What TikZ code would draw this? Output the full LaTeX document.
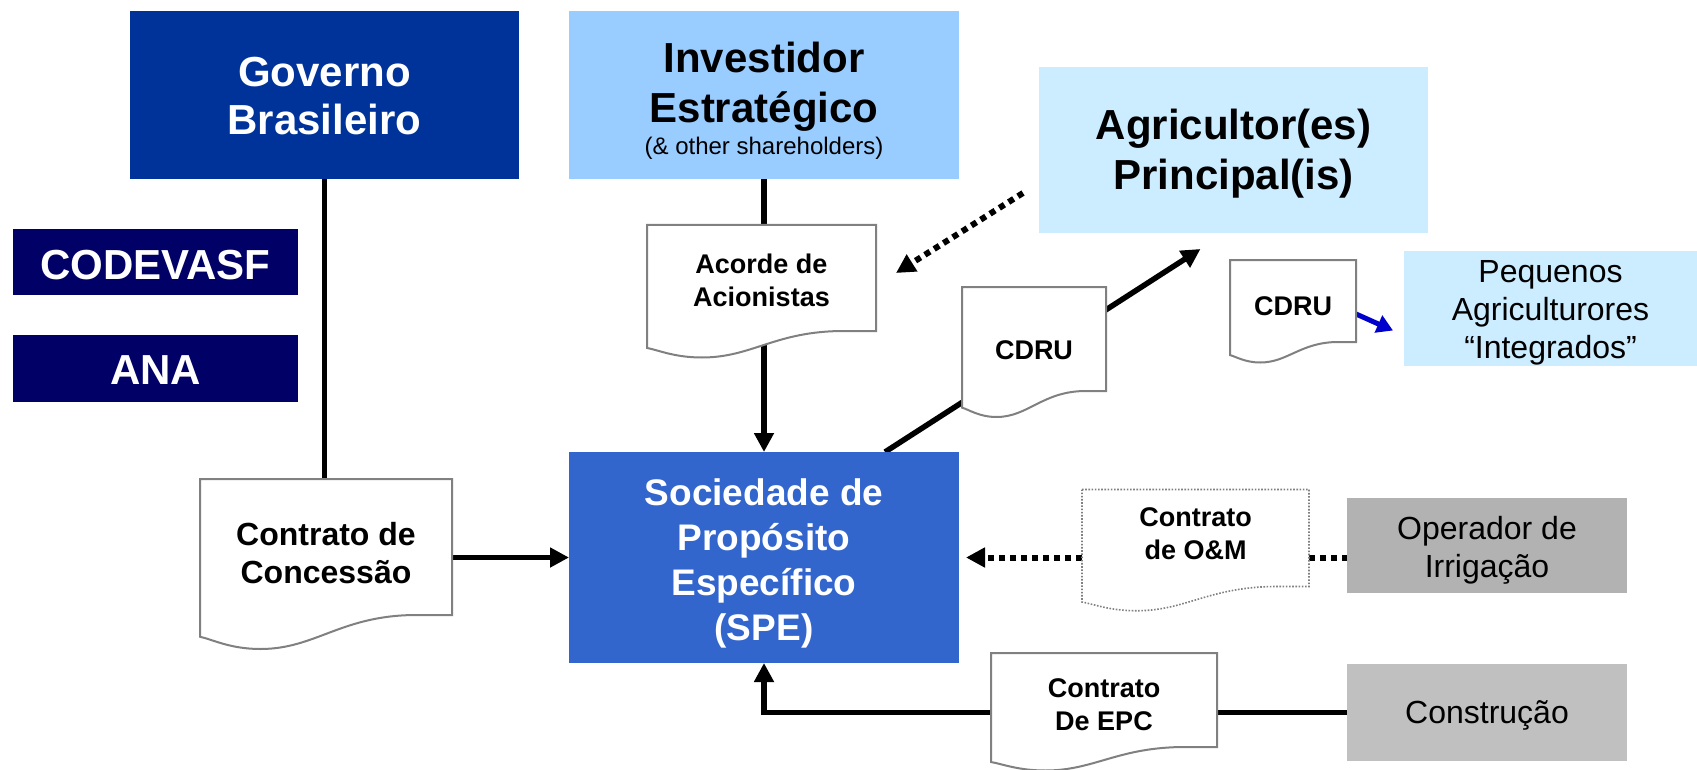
\documentclass[tikz,border=0pt]{standalone}
\usepackage{fontspec}
\setmainfont{Liberation Sans}
\usetikzlibrary{calc,arrows.meta}
\pgfdeclarelayer{lines}
\pgfdeclarelayer{docs}
\pgfsetlayers{lines,docs,main}
\definecolor{govblue}{HTML}{003399}
\definecolor{navy}{HTML}{000066}
\definecolor{invblue}{HTML}{99CCFF}
\definecolor{agrblue}{HTML}{CCECFF}
\definecolor{speblue}{HTML}{3366CC}
\definecolor{opgray}{HTML}{B2B2B2}
\definecolor{congray}{HTML}{C0C0C0}
\definecolor{docgray}{HTML}{808080}
\definecolor{arrblue}{HTML}{0000CC}
\tikzset{
  wh/.style 2 args={minimum width=#1pt, minimum height=#2pt},
  boxbase/.style={inner sep=0pt, outer sep=0pt, align=center},
  txt/.style={inner sep=0pt, outer sep=0pt, align=center},
  bigbold/.style={font=\bfseries\fontsize{42}{48}\selectfont},
  spefont/.style={font=\bfseries\fontsize{37}{45}\selectfont},
  regfont/.style={font=\fontsize{32}{38}\selectfont},
  docfont/.style={font=\bfseries\fontsize{27}{33}\selectfont},
  docline/.style={draw=docgray, line width=2pt, fill=white},
  docdots/.style={draw=docgray, line width=1.6pt, dash pattern=on 1.6pt off 1.6pt, fill=white},
  conn/.style={draw=black, line width=5.5pt},
  dotconn/.style={draw=black, line width=6pt, dash pattern=on 6pt off 5pt},
  blueconn/.style={draw=arrblue, line width=5pt, -{Triangle[length=16pt,width=18pt]}},
  tip/.style={-{Triangle[length=19pt,width=19pt]}}
}
\newcommand\docout[2][docline]{%
  \begin{pgfonlayer}{docs}
  \path[#1] let \p1=(#2.north west), \p2=(#2.south east), \n1={\x2-\x1}, \n2={\y1-\y2} in
    (\x1,\y1) -- (\x2,\y1) -- (\x2,\y2) -- (\x2-0.14*\n1,\y2)
    .. controls (\x1+0.56*\n1,\y2) and (\x1+0.46*\n1,\y2-0.25*\n2) .. (\x1+0.24*\n1,\y2-0.25*\n2)
    .. controls (\x1+0.12*\n1,\y2-0.25*\n2) and (\x1+0.05*\n1,\y2-0.18*\n2) .. (\x1,\y2-0.16*\n2) -- cycle;
  \end{pgfonlayer}}
\begin{document}
\begin{tikzpicture}[x=1pt,y=-1pt]
\useasboundingbox (0,0) rectangle (1697,770);
% main boxes
\node[boxbase, fill=govblue, wh={389}{168}] (gov) at (324.5,95) {};
\node[txt, bigbold, text=white] (govt) at ($(gov.center)+(0,1)$) {Governo\\Brasileiro};
\node[boxbase, fill=invblue, wh={390}{168}] (inv) at (764,95) {};
\node[txt, font=\bfseries\fontsize{42}{50}\selectfont] (invt) at ($(inv.center)+(0,5.5)$) {Investidor\\Estratégico\\[-18pt]{\mdseries\fontsize{24}{28}\selectfont (\& other shareholders)}};
\node[boxbase, fill=agrblue, wh={389}{166}] (agr) at (1233.5,150) {};
\node[txt, font=\bfseries\fontsize{42}{50}\selectfont] (agrt) at ($(agr.center)+(0,4)$) {Agricultor(es)\\Principal(is)};
\node[boxbase, fill=navy, wh={285}{66}] (codevasf) at (155.5,262) {};
\node[txt, bigbold, text=white] (codevasft) at ($(codevasf.center)+(0,3)$) {CODEVASF};
\node[boxbase, fill=navy, wh={285}{67}] (ana) at (155.5,368.5) {};
\node[txt, bigbold, text=white] (anat) at ($(ana.center)+(0,2)$) {ANA};
\node[boxbase, fill=speblue, wh={390}{211}] (spe) at (764,557.5) {};
\node[txt, spefont, text=white] (spet) at ($(spe.center)+(0,5.5)$) {Sociedade de\\Propósito\\Específico\\(SPE)};
\node[boxbase, fill=agrblue, wh={293}{115}] (peq) at (1550.5,308.5) {};
\node[txt, regfont] (peqt) at ($(peq.center)+(0,4.5)$) {Pequenos\\Agriculturores\\“Integrados”};
\node[boxbase, fill=opgray, wh={280}{95}] (op) at (1487,545.5) {};
\node[txt, regfont] (opt) at ($(op.center)+(0,4.5)$) {Operador de\\Irrigação};
\node[boxbase, fill=congray, wh={280}{97}] (cons) at (1487,712.5) {};
\node[txt, regfont] (const) at ($(cons.center)+(0,3)$) {Construção};
% documents
\node[boxbase, wh={229}{106}] (acorde) at (761.5,278) {};
\node[boxbase, wh={144}{104}] (cdru1) at (1034,339) {};
\node[boxbase, wh={126}{82}] (cdru2) at (1293,301) {};
\node[boxbase, wh={252}{136}] (conc) at (326,547) {};
\node[boxbase, wh={227}{97}] (om) at (1195.5,538) {};
\node[boxbase, wh={226}{94}] (epc) at (1104,700) {};
\docout{acorde}
\docout{cdru1}
\docout{cdru2}
\docout{conc}
\docout[docdots]{om}
\docout{epc}
\node[txt, docfont] (acordet) at ($(acorde.center)+(0,2)$) {Acorde de\\Acionistas};
\node[txt, docfont] (cdru1t) at ($(cdru1.center)+(0,11)$) {CDRU};
\node[txt, docfont] (cdru2t) at ($(cdru2.center)+(0,5)$) {CDRU};
\node[txt, font=\bfseries\fontsize{32}{38}\selectfont] (conct) at ($(conc.center)+(0,6.5)$) {Contrato de\\Concessão};
\node[txt, docfont] (omt) at ($(om.center)+(0,-4)$) {Contrato\\de O\&M};
\node[txt, docfont] (epct) at ($(epc.center)+(0,5)$) {Contrato\\De EPC};
% free ends
\coordinate (c1) at ($(spe.north)+(121,0)$);
\coordinate (c2) at ($(agr.south)+(-33,16)$);
\coordinate (d1) at ($(agr.south west)+(-16,-40)$);
\coordinate (d2) at ($(acorde.east)+(20,-5)$);
\coordinate (b1) at ($(cdru2.east)+(0,13)$);
\coordinate (b2) at ($(peq.west)+(-11,22)$);
\begin{pgfonlayer}{lines}
\draw[conn] (gov.south) -- (gov.south |- conc.north);
\draw[conn,tip] (conc.east |- spe.west) -- (spe.west);
\draw[conn,tip] (inv.south) -- (spe.north);
\draw[conn,tip] (c1) -- (c2);
\draw[dotconn,tip] (d1) -- (d2);
\draw[blueconn] (b1) -- (b2);
\draw[dotconn,tip] (om.west |- spe.east) -- ([xshift=7pt]spe.east);
\draw[dotconn] (om.east |- spe.east) -- (op.west |- spe.east);
\draw[conn,tip] (cons.west) -- (cons.west -| spe.south) -- (spe.south);
\end{pgfonlayer}
\end{tikzpicture}
\end{document}
